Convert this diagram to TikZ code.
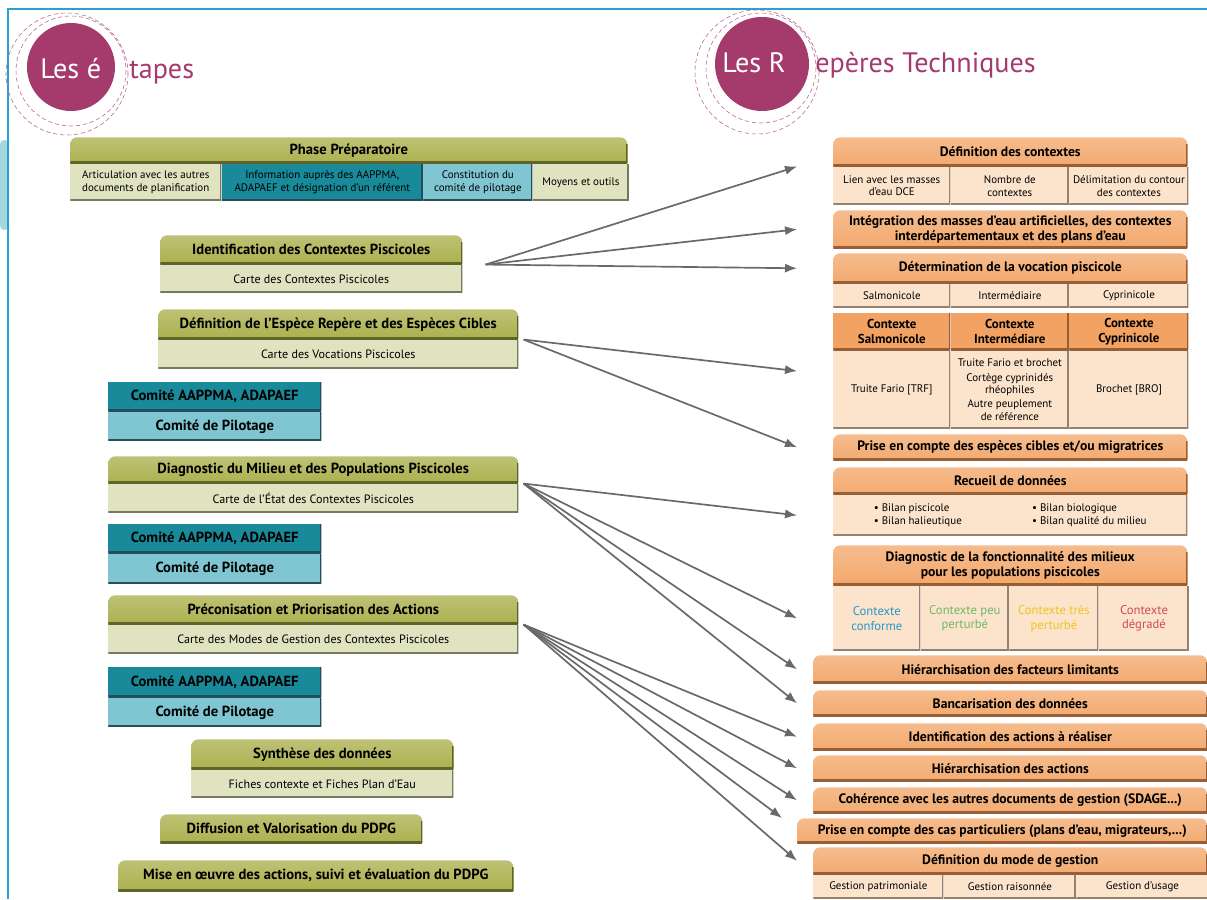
\documentclass[tikz,border=0pt]{standalone}
\usepackage{fontspec}
\setmainfont{PT Sans}
\usepackage{xcolor}
\usepackage{tikz}
\usetikzlibrary{positioning,arrows.meta,calc}

\definecolor{olivehd}{RGB}{164,170,64}
\definecolor{olivedk}{RGB}{96,100,40}
\definecolor{olivelt}{RGB}{224,227,192}
\definecolor{olivesh}{RGB}{118,120,96}
\definecolor{tealdk}{RGB}{24,138,154}
\definecolor{teallt}{RGB}{128,198,210}
\definecolor{tealsh}{RGB}{38,78,88}
\definecolor{orangehd}{RGB}{242,162,98}
\definecolor{orangedk}{RGB}{150,95,55}
\definecolor{orangelt}{RGB}{252,228,204}
\definecolor{orangesh}{RGB}{150,128,112}
\definecolor{plum}{RGB}{165,58,108}
\definecolor{framecol}{RGB}{40,160,210}
\definecolor{arrgray}{RGB}{105,105,105}
\definecolor{ctxblue}{RGB}{40,150,200}
\definecolor{ctxgreen}{RGB}{110,185,105}
\definecolor{ctxyellow}{RGB}{240,195,30}
\definecolor{ctxred}{RGB}{205,75,90}

\newcommand\hdfont{\bfseries\fontsize{10.4}{12}\selectfont}
\newcommand\rhdfont{\bfseries\fontsize{9.7}{11}\selectfont}
\newcommand\ctxhdfont{\bfseries\fontsize{9.2}{10.6}\selectfont}
\newcommand\subfont{\fontsize{8.6}{10}\selectfont}
\newcommand\cellfont{\fontsize{7.8}{9}\selectfont}
\newcommand\ctxfont{\fontsize{9}{10.5}\selectfont}
\newcommand\titlefont{\fontsize{20}{24}\selectfont}

\begin{document}
\begin{tikzpicture}[
  x=0.025cm, y=-0.025cm,
  wd/.style={minimum width=#1*0.025cm},
  ht/.style={minimum height=#1*0.025cm},
  tabbox/.style 2 args={rectangle, inner sep=1pt, align=center, anchor=north west,
    path picture={
      \shade[top color=#1!72!white, bottom color=#1, rounded corners=5pt]
        ([yshift=-8pt]path picture bounding box.south west) rectangle (path picture bounding box.north east);
      \draw[#2, line width=3pt] (path picture bounding box.south west) -- (path picture bounding box.south east);
      \draw[#2, line width=2.4pt] ([yshift=-5pt]path picture bounding box.north east) -- (path picture bounding box.south east);
    }},
  cellbox/.style 2 args={rectangle, inner sep=1pt, align=center, anchor=north west, fill=#1,
    path picture={
      \draw[#2, line width=3pt] (path picture bounding box.south west) -- (path picture bounding box.south east);
      \draw[#2, line width=2.4pt] (path picture bounding box.north east) -- (path picture bounding box.south east);
    }},
  ghead/.style={tabbox={olivehd}{olivedk}, font=\hdfont},
  gsub/.style={cellbox={olivelt}{olivesh}, font=\subfont},
  gcell/.style={cellbox={olivelt}{olivesh}, font=\cellfont},
  tdark/.style={cellbox={tealdk}{tealsh}, font=\hdfont},
  tlight/.style={cellbox={teallt}{tealsh}, font=\hdfont},
  ohead/.style={tabbox={orangehd}{orangedk}, font=\rhdfont},
  octx/.style={cellbox={orangehd}{orangedk}, font=\ctxhdfont},
  osub/.style={cellbox={orangelt}{orangesh}, font=\cellfont},
  arr/.style={-{Latex[length=3mm,width=2.3mm]}, arrgray, line width=1.2pt}
]
  \useasboundingbox (0,0) rectangle (1207,899);

  % frame
  \fill[teallt!70, rounded corners=3pt] (0,140) rectangle (9,230);
  \draw[framecol, line width=1pt] (8,899) -- (8,9) -- (1207,9);

  % titles
  \fill[plum] (71,67) circle (44);
  \draw[plum!80, densely dashed, line width=0.4pt] (67,74) circle (61);
  \draw[plum!80, densely dashed, line width=0.4pt] (71,71) circle (55);
  \node[anchor=base west, font=\titlefont, text=white, inner sep=0pt] (tla) at (40,79) {Les é};
  \node[anchor=base west, font=\titlefont, text=plum, inner sep=0pt] (tlb) at (129,79) {tapes};

  \fill[plum] (762,64) circle (47);
  \draw[plum!80, densely dashed, line width=0.4pt] (757,72) circle (62);
  \draw[plum!80, densely dashed, line width=0.4pt] (761,68) circle (55);
  \node[anchor=base west, font=\titlefont, text=white, inner sep=0pt] (tra) at (722,73) {Les R};
  \node[anchor=base west, font=\titlefont, text=plum, inner sep=0pt] (trb) at (815,73) {epères Techniques};

  % les etapes
  \node[ghead, wd=557, ht=26] (ph) at (70,137) {Phase Préparatoire};
  \node[gcell, wd=151, ht=37] (pc1) at (ph.south west) {Articulation avec les autres\\documents de planification};
  \node[cellbox={tealdk}{tealsh}, font=\cellfont, wd=201, ht=37] (pc2) at (pc1.north east) {Information auprès des AAPPMA,\\ADAPAEF et désignation d’un référent};
  \node[cellbox={teallt}{tealsh}, font=\cellfont, wd=109, ht=37] (pc3) at (pc2.north east) {Constitution du\\comité de pilotage};
  \node[gcell, wd=96, ht=37] (pc4) at (pc3.north east) {Moyens et outils};

  \node[ghead, wd=302, ht=29] (idh) at (160,235) {Identification des Contextes Piscicoles};
  \node[gsub, wd=302, ht=28] (ids) at (idh.south west) {Carte des Contextes Piscicoles};

  \node[ghead, wd=360, ht=30] (deh) at (158,309) {Définition de l’Espèce Repère et des Espèces Cibles};
  \node[gsub, wd=360, ht=29] (des) at (deh.south west) {Carte des Vocations Piscicoles};

  \node[tdark, wd=213, ht=29] (coma) at (108,382) {Comité AAPPMA, ADAPAEF};
  \node[tlight, wd=213, ht=29] (comb) at (coma.south west) {Comité de Pilotage};

  \node[ghead, wd=410, ht=27] (dgh) at (108,456) {Diagnostic du Milieu et des Populations Piscicoles};
  \node[gsub, wd=410, ht=29] (dgs) at (dgh.south west) {Carte de l’État des Contextes Piscicoles};

  \node[tdark, wd=213, ht=29] (comc) at (108,524) {Comité AAPPMA, ADAPAEF};
  \node[tlight, wd=213, ht=30] (comd) at (comc.south west) {Comité de Pilotage};

  \node[ghead, wd=410, ht=29] (prh) at (108,595) {Préconisation et Priorisation des Actions};
  \node[gsub, wd=410, ht=29] (prs) at (prh.south west) {Carte des Modes de Gestion des Contextes Piscicoles};

  \node[tdark, wd=213, ht=30] (come) at (108,667) {Comité AAPPMA, ADAPAEF};
  \node[tlight, wd=213, ht=29] (comf) at (come.south west) {Comité de Pilotage};

  \node[ghead, wd=262, ht=30] (syh) at (191,739) {Synthèse des données};
  \node[gsub, wd=262, ht=28] (sys) at (syh.south west) {Fiches contexte et Fiches Plan d’Eau};

  \node[ghead, wd=262, ht=29] (dif) at (160,814) {Diffusion et Valorisation du PDPG};
  \node[ghead, wd=395, ht=31] (mis) at (118,860) {Mise en œuvre des actions, suivi et évaluation du PDPG};

  % les reperes techniques
  \node[ohead, wd=354, ht=29] (dch) at (833,137) {Définition des contextes};
  \node[osub, wd=117, ht=38] (dc1) at (dch.south west) {Lien avec les masses\\d’eau DCE};
  \node[osub, wd=118, ht=38] (dc2) at (dc1.north east) {Nombre de\\contextes};
  \node[osub, wd=119, ht=38] (dc3) at (dc2.north east) {Délimitation du contour\\des contextes};

  \node[ohead, wd=354, ht=38] (integ) at (833,210) {Intégration des masses d’eau artificielles, des contextes\\interdépartementaux et des plans d’eau};

  \node[ohead, wd=354, ht=30] (voch) at (833,253) {Détermination de la vocation piscicole};
  \node[osub, wd=117, ht=24] (vc1) at (voch.south west) {Salmonicole};
  \node[osub, wd=118, ht=24] (vc2) at (vc1.north east) {Intermédiaire};
  \node[osub, wd=119, ht=24] (vc3) at (vc2.north east) {Cyprinicole};

  \node[octx, wd=117, ht=37] (cs1a) at (833,313) {Contexte\\Salmonicole};
  \node[octx, wd=118, ht=37] (cs2a) at (cs1a.north east) {Contexte\\Intermédiare};
  \node[octx, wd=119, ht=37] (cs3a) at (cs2a.north east) {Contexte\\Cyprinicole};
  \node[osub, wd=117, ht=78] (cs1b) at (cs1a.south west) {Truite Fario [TRF]};
  \node[osub, wd=118, ht=78] (cs2b) at (cs2a.south west) {Truite Fario et brochet\\[1pt]Cortège cyprinidés\\rhéophiles\\[1pt]Autre peuplement\\de référence};
  \node[osub, wd=119, ht=78] (cs3b) at (cs3a.south west) {Brochet [BRO]};

  \node[ohead, wd=354, ht=26] (esp) at (833,434) {Prise en compte des espèces cibles et/ou migratrices};

  \node[ohead, wd=354, ht=27] (rch) at (833,467) {Recueil de données};
  \node[osub, wd=354, ht=41] (rcs) at (rch.south west) {\begin{tabular}{@{}l@{\hspace{50pt}}l@{}}
    • Bilan piscicole & • Bilan biologique\\
    • Bilan halieutique & • Bilan qualité du milieu
  \end{tabular}};

  \node[ohead, wd=354, ht=40] (fch) at (833,545) {Diagnostic de la fonctionnalité des milieux\\pour les populations piscicoles};
  \node[osub, font=\ctxfont, text=ctxblue, wd=87, ht=65] (fc1) at (fch.south west) {Contexte\\conforme};
  \node[osub, font=\ctxfont, text=ctxgreen, wd=88, ht=65] (fc2) at (fc1.north east) {Contexte peu\\perturbé};
  \node[osub, font=\ctxfont, text=ctxyellow, wd=89, ht=65] (fc3) at (fc2.north east) {Contexte très\\perturbé};
  \node[osub, font=\ctxfont, text=ctxred, wd=90, ht=65] (fc4) at (fc3.north east) {Contexte\\dégradé};

  \node[ohead, wd=394, ht=28] (fac) at (813,655) {Hiérarchisation des facteurs limitants};
  \node[ohead, wd=394, ht=26] (ban) at (813,690) {Bancarisation des données};
  \node[ohead, wd=394, ht=27] (ida) at (813,723) {Identification des actions à réaliser};
  \node[ohead, wd=394, ht=26] (hia) at (813,755) {Hiérarchisation des actions};
  \node[ohead, wd=394, ht=26] (coh) at (813,787) {Cohérence avec les autres documents de gestion (SDAGE...)};
  \node[ohead, wd=410, ht=25] (cas) at (797,818) {Prise en compte des cas particuliers (plans d’eau, migrateurs,...)};

  \node[ohead, wd=394, ht=27] (mgh) at (813,847) {Définition du mode de gestion};
  \node[osub, wd=130, ht=24] (mg1) at (mgh.south west) {Gestion patrimoniale};
  \node[osub, wd=132, ht=24] (mg2) at (mg1.north east) {Gestion raisonnée};
  \node[osub, wd=132, ht=24] (mg3) at (mg2.north east) {Gestion d’usage};

  % arrows
  \coordinate (tipx) at (797,0);
  \coordinate (idsrc) at ([xshift=0.575cm]idh.south east);
  \coordinate (desrc) at ([xshift=0.125cm]deh.south east);
  \coordinate (dgsrc) at ([xshift=0.125cm]dgh.south east);
  \coordinate (prsrc) at ([xshift=0.125cm]prh.south east);
  \coordinate (ctxmid) at ($(cs1a.north west)!.5!(cs1b.south west)$);

  \foreach \tgt in {dch.south west, integ.west, voch.west}
    \draw[arr] (idsrc) -- (tipx |- \tgt);
  \foreach \tgt in {ctxmid, esp.west}
    \draw[arr] (desrc) -- (tipx |- \tgt);
  \foreach \tgt in {rcs.west, fc1.west, fac.west, ban.west}
    \draw[arr] (dgsrc) -- (tipx |- \tgt);
  \foreach \tgt in {ida.west, hia.west, coh.west, mgh.west}
    \draw[arr] (prsrc) -- (tipx |- \tgt);
  \draw[arr] (prsrc) -- ([xshift=-0.375cm]cas.north west);
\end{tikzpicture}
\end{document}
